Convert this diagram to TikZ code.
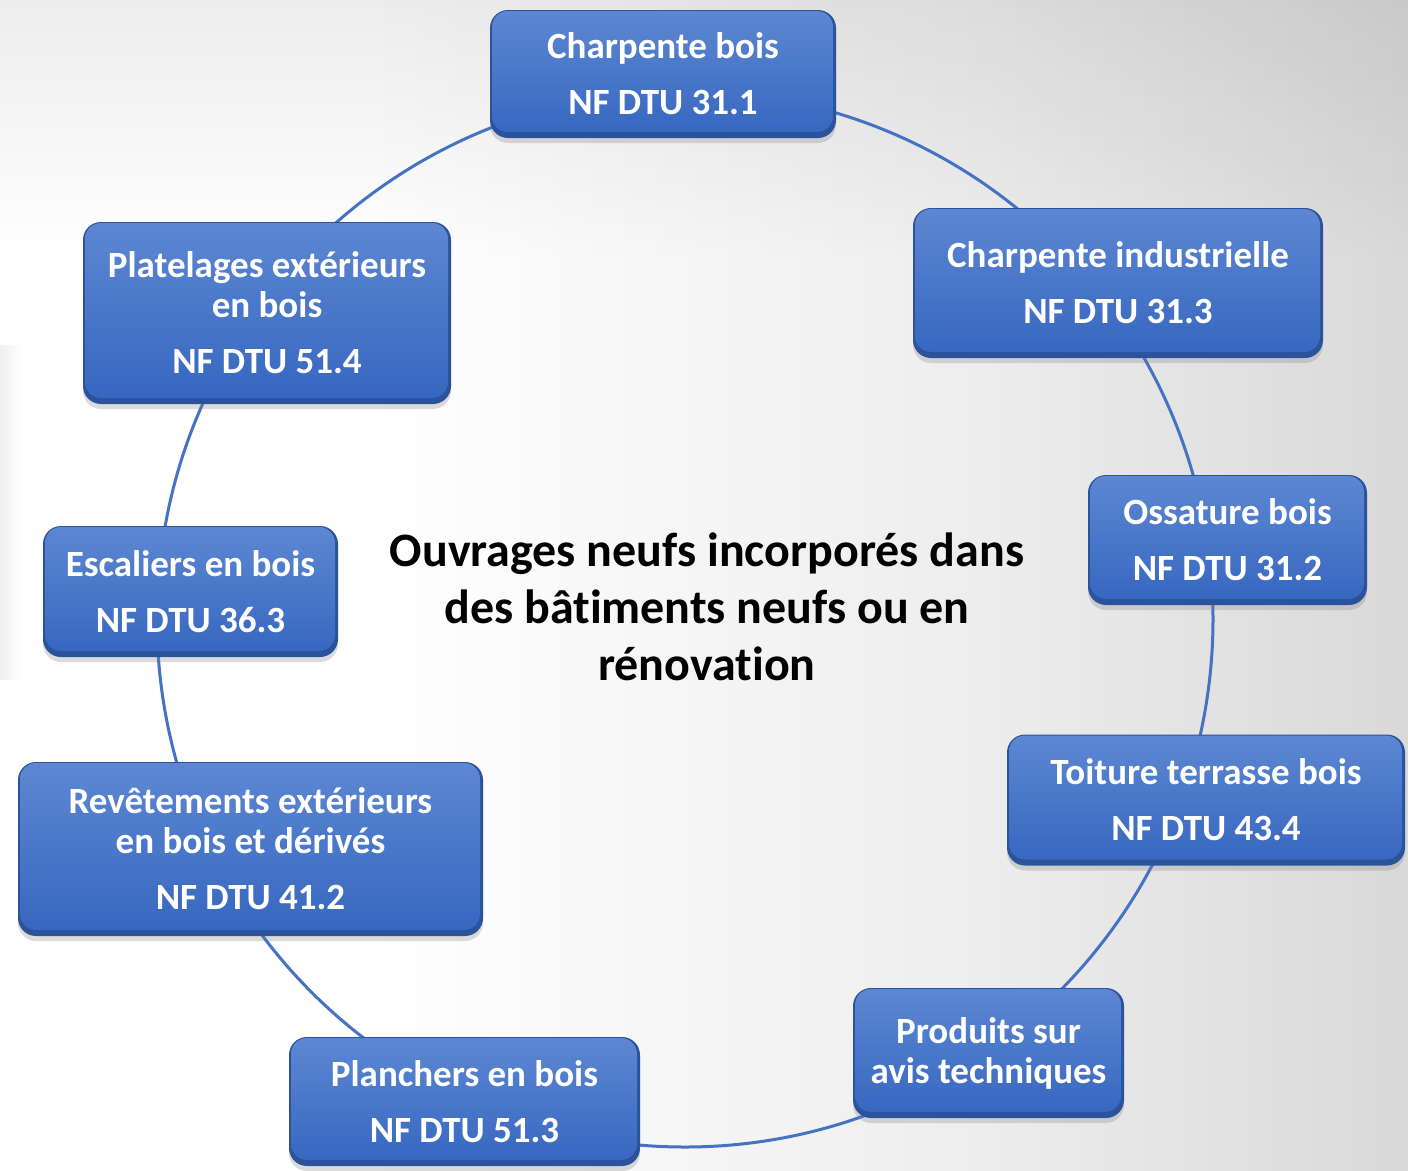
\documentclass[tikz,border=0pt]{standalone}
\usepackage{fontspec}
\setmainfont{Carlito}[Ligatures={NoCommon,NoContextual}]
\usetikzlibrary{shadows,fadings}
\definecolor{boxtop}{HTML}{5D87D2}
\definecolor{boxbot}{HTML}{3566BF}
\definecolor{boxedge}{HTML}{2B539C}
\definecolor{ringcol}{HTML}{4472C4}
\definecolor{bgB}{HTML}{EDEDED}
\definecolor{bgC}{HTML}{D2D2D2}
\definecolor{bgD}{HTML}{B3B3B3}
\pgfdeclarehorizontalshading{bgshade}{100bp}{color(0bp)=(white); color(38bp)=(white); color(60bp)=(bgB); color(80bp)=(bgC); color(100bp)=(bgD)}
\tikzfading[name=fadetop, top color=transparent!0, bottom color=transparent!100]
\tikzfading[name=fadeleft, left color=transparent!0, right color=transparent!100]
\begin{document}
\begin{tikzpicture}[x=1pt,y=-1pt,
  bbox/.style={rectangle, rounded corners=18pt, fill=boxedge, text=white,
    font=\fontsize{37}{40}\selectfont\bfseries, align=center, inner sep=0pt,
    drop shadow={shadow xshift=0pt,shadow yshift=-5pt,opacity=.28},
    path picture={\shade[top color=boxtop,bottom color=boxbot,rounded corners=16pt]
      ([xshift=2pt,yshift=-1pt]path picture bounding box.north west) rectangle
      ([xshift=-3pt,yshift=6pt]path picture bounding box.south east);}},
  ring/.style={draw=ringcol, line width=3pt},
  titletext/.style={font=\fontsize{48}{57}\selectfont\bfseries, align=center, text=black}]
\useasboundingbox (0,0) rectangle (1408,1170);
\shade[shading=bgshade] (0,0) rectangle (1408,1170);
\fill[black, opacity=.07, path fading=fadetop] (0,0) rectangle (1408,260);
\fill[black, opacity=.06, path fading=fadeleft] (0,345) rectangle (22,680);
% ring
\coordinate (ctr) at (685,619);
\draw[ring] (ctr) circle[radius=528];
% boxes
\node[bbox, minimum width=346pt, minimum height=128pt] (cb) at (663,74)
  {Charpente bois\\[16pt]NF DTU 31.1};
\node[bbox, minimum width=410pt, minimum height=150pt] (ci) at (1118,283)
  {Charpente industrielle\\[16pt]NF DTU 31.3};
\node[bbox, minimum width=279pt, minimum height=130pt] (ob) at (1227.5,540)
  {Ossature bois\\[16pt]NF DTU 31.2};
\node[bbox, minimum width=398pt, minimum height=131pt] (tt) at (1206,800)
  {Toiture terrasse bois\\[16pt]NF DTU 43.4};
\node[bbox, minimum width=271pt, minimum height=130pt] (pa) at (988.5,1053)
  {Produits sur\\avis techniques};
\node[bbox, minimum width=351pt, minimum height=129pt] (pb) at (464.5,1101.5)
  {Planchers en bois\\[16pt]NF DTU 51.3};
\node[bbox, minimum width=465pt, minimum height=174pt] (re) at (250.5,849)
  {Revêtements extérieurs\\en bois et dérivés\\[16pt]NF DTU 41.2};
\node[bbox, minimum width=295pt, minimum height=131pt] (eb) at (190.5,591.5)
  {Escaliers en bois\\[16pt]NF DTU 36.3};
\node[bbox, minimum width=368pt, minimum height=182pt] (pl) at (267,313)
  {Platelages extérieurs\\en bois\\[16pt]NF DTU 51.4};
% title
\node[titletext] (title) at (707,607)
  {Ouvrages neufs incorporés dans\\des bâtiments neufs ou en\\rénovation};
\end{tikzpicture}
\end{document}
